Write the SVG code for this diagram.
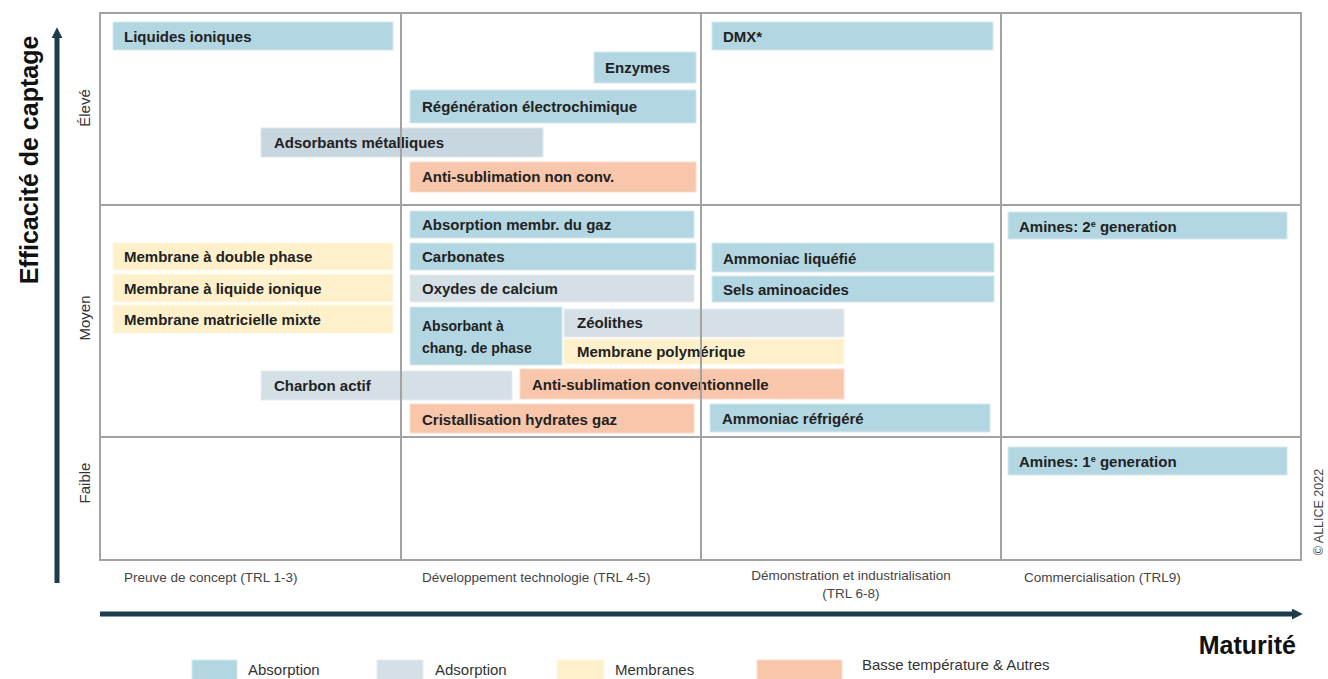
<svg xmlns="http://www.w3.org/2000/svg" width="1328" height="679" viewBox="0 0 1328 679">
<style>
.b{font-family:"Liberation Sans",Arial,sans-serif;font-weight:bold;font-size:15px;fill:#222}
.s{font-family:"Liberation Sans",Arial,sans-serif;font-size:13.5px;fill:#444}
.r{font-family:"Liberation Sans",Arial,sans-serif;font-size:15px;fill:#333}
.t{font-family:"Liberation Sans",Arial,sans-serif;font-weight:bold;font-size:25px;fill:#111}
.lg{font-family:"Liberation Sans",Arial,sans-serif;font-size:15px;fill:#333}
.abs{fill:#b2d6e2;stroke:#d6e9ef;stroke-width:1}
.ads{fill:#d4dfe6;stroke:#e6edf1;stroke-width:1}
.adm{fill:#c8d6e0;stroke:#e0e8ee;stroke-width:1}
.mem{fill:#fdf0cb;stroke:#fff7e2;stroke-width:1}
.bas{fill:#f8c6aa;stroke:#fbdccb;stroke-width:1}
.grid{stroke:#a3a3a3;stroke-width:2;fill:none}
.ax{stroke:#1d3c4b;stroke-width:5;fill:none}
</style>
<defs>
<marker id="ah" viewBox="0 0 10 10" refX="2" refY="5" markerWidth="2.2" markerHeight="2.2" orient="auto" markerUnits="strokeWidth">
<path d="M0,0 L10,5 L0,10 z" fill="#1d3c4b"/>
</marker>
</defs>
<rect width="1328" height="679" fill="#fff"/>

<g id="nodes">
<g id="n-liquides"><rect class="abs" x="113" y="22" width="280" height="28"/><text class="b" x="124" y="42">Liquides ioniques</text></g>
<g id="n-enzymes"><rect class="abs" x="594" y="52" width="102" height="31"/><text class="b" x="605" y="73">Enzymes</text></g>
<g id="n-regen"><rect class="abs" x="410" y="90" width="286" height="33"/><text class="b" x="422" y="112">Régénération électrochimique</text></g>
<g id="n-adsmet"><rect class="adm" x="261" y="128" width="282" height="29"/><text class="b" x="274" y="148">Adsorbants métalliques</text></g>
<g id="n-antinc"><rect class="bas" x="410" y="162" width="286" height="30"/><text class="b" x="422" y="182">Anti-sublimation non conv.</text></g>
<g id="n-dmx"><rect class="abs" x="712" y="22" width="281" height="28"/><text class="b" x="723" y="42">DMX*</text></g>

<g id="n-absmem"><rect class="abs" x="410" y="211" width="284" height="27"/><text class="b" x="422" y="230">Absorption membr. du gaz</text></g>
<g id="n-carb"><rect class="abs" x="410" y="243" width="286" height="27"/><text class="b" x="422" y="262">Carbonates</text></g>
<g id="n-oxy"><rect class="ads" x="410" y="275" width="284" height="27"/><text class="b" x="422" y="294">Oxydes de calcium</text></g>
<g id="n-absphase"><rect class="abs" x="410" y="307" width="152" height="58"/><text class="b" x="422" y="331" style="font-size:14px">Absorbant à</text><text class="b" x="422" y="353" style="font-size:14px">chang. de phase</text></g>
<g id="n-zeo"><rect class="ads" x="564" y="309" width="280" height="28"/><text class="b" x="577" y="328">Zéolithes</text></g>
<g id="n-mempoly"><rect class="mem" x="564" y="339" width="280" height="25"/><text class="b" x="577" y="357">Membrane polymérique</text></g>
<g id="n-charbon"><rect class="ads" x="261" y="371" width="251" height="29"/><text class="b" x="274" y="391">Charbon actif</text></g>
<g id="n-anticonv"><rect class="bas" x="520" y="369" width="324" height="30"/><text class="b" x="532" y="390">Anti-sublimation conventionnelle</text></g>
<g id="n-crist"><rect class="bas" x="410" y="404" width="284" height="29"/><text class="b" x="422" y="425">Cristallisation hydrates gaz</text></g>
<g id="n-ammliq"><rect class="abs" x="712" y="243" width="282" height="29"/><text class="b" x="723" y="264">Ammoniac liquéfié</text></g>
<g id="n-sels"><rect class="abs" x="712" y="276" width="282" height="26"/><text class="b" x="723" y="295">Sels aminoacides</text></g>
<g id="n-ammref"><rect class="abs" x="710" y="404" width="280" height="28"/><text class="b" x="722" y="424">Ammoniac réfrigéré</text></g>
<g id="n-amines2"><rect class="abs" x="1008" y="212" width="279" height="27"/><text class="b" x="1019" y="232">Amines: 2<tspan dy="-5" style="font-size:9px">e</tspan><tspan dy="5"> generation</tspan></text></g>
<g id="n-amines1"><rect class="abs" x="1008" y="447" width="279" height="28"/><text class="b" x="1019" y="467">Amines: 1<tspan dy="-5" style="font-size:9px">e</tspan><tspan dy="5"> generation</tspan></text></g>
<g id="n-memdouble"><rect class="mem" x="113" y="243" width="280" height="27"/><text class="b" x="124" y="262">Membrane à double phase</text></g>
<g id="n-memliq"><rect class="mem" x="113" y="274" width="280" height="28"/><text class="b" x="124" y="294">Membrane à liquide ionique</text></g>
<g id="n-memmat"><rect class="mem" x="113" y="305" width="280" height="28"/><text class="b" x="124" y="325">Membrane matricielle mixte</text></g>
</g>

<g id="grid">
<rect class="grid" x="100" y="13" width="1201" height="547"/>
<line class="grid" x1="401" y1="13" x2="401" y2="560"/>
<line class="grid" x1="701" y1="13" x2="701" y2="560"/>
<line class="grid" x1="1001" y1="13" x2="1001" y2="560"/>
<line class="grid" x1="100" y1="205" x2="1301" y2="205"/>
<line class="grid" x1="100" y1="437" x2="1301" y2="437"/>
</g>

<g id="connectors">
<line class="ax" x1="57" y1="583" x2="57" y2="36" marker-end="url(#ah)"/>
<line class="ax" x1="100" y1="614" x2="1294" y2="614" marker-end="url(#ah)"/>
</g>

<g id="labels">
<text class="t" transform="translate(38,160) rotate(-90)" text-anchor="middle">Efficacité de captage</text>
<text class="r" transform="translate(90,108) rotate(-90)" text-anchor="middle">Élevé</text>
<text class="r" transform="translate(90,318) rotate(-90)" text-anchor="middle">Moyen</text>
<text class="r" transform="translate(90,483) rotate(-90)" text-anchor="middle">Faible</text>
<text class="s" x="124" y="582">Preuve de concept (TRL 1-3)</text>
<text class="s" x="422" y="582">Développement technologie (TRL 4-5)</text>
<text class="s" x="851" y="580" text-anchor="middle">Démonstration et industrialisation</text>
<text class="s" x="851" y="598" text-anchor="middle">(TRL 6-8)</text>
<text class="s" x="1024" y="582">Commercialisation (TRL9)</text>
<text class="s" transform="translate(1323,512) rotate(-90)" text-anchor="middle" style="font-size:12.5px">© ALLICE 2022</text>
<text class="t" x="1296" y="654" text-anchor="end">Maturité</text>
</g>

<g id="legend">
<rect class="abs" x="192" y="660" width="45" height="22"/><text class="lg" x="248" y="675">Absorption</text>
<rect class="ads" x="377" y="660" width="46" height="22"/><text class="lg" x="435" y="675">Adsorption</text>
<rect class="mem" x="557" y="660" width="47" height="22"/><text class="lg" x="615" y="675">Membranes</text>
<rect class="bas" x="757" y="660" width="85" height="22"/><text class="lg" x="862" y="670">Basse température &amp; Autres</text>
</g>
</svg>
